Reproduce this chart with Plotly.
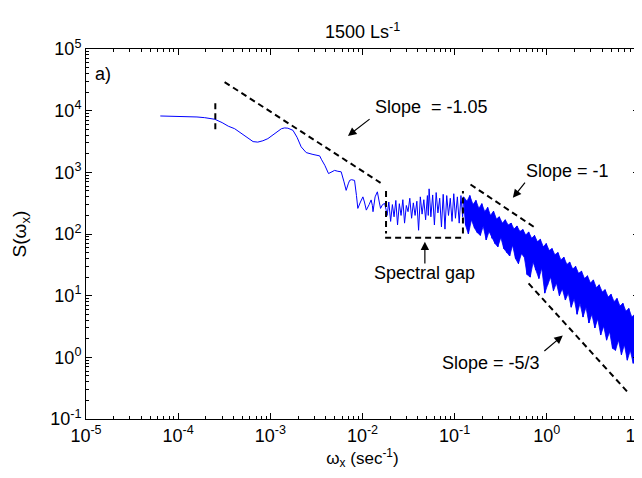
import math
import plotly.graph_objects as go

# ---------------- data ----------------
# smooth / low-frequency part of the spectrum
low_freq = [6.4e-5, 8e-5, 1.0e-4, 1.3e-4, 1.6e-4, 1.94e-4, 2.5e-4, 3.0e-4, 3.5e-4, 4.1e-4,
            4.8e-4, 5.7e-4, 6.5e-4, 7.3e-4, 8.3e-4, 9.4e-4, 1.07e-3, 1.2e-3, 1.32e-3, 1.43e-3,
            1.55e-3, 1.76e-3, 1.95e-3, 2.16e-3, 2.45e-3, 2.9e-3, 3.43e-3, 3.6e-3, 3.9e-3, 4.28e-3,
            4.6e-3, 4.98e-3, 5.4e-3, 5.87e-3, 6.3e-3, 6.65e-3, 7.0e-3, 7.25e-3, 7.6e-3, 8.2e-3,
            8.6e-3, 8.9e-3, 9.5e-3, 1.01e-2, 1.05e-2, 1.1e-2, 1.18e-2, 1.24e-2, 1.28e-2, 1.3e-2,
            1.37e-2, 1.45e-2, 1.52e-2, 1.57e-2, 1.65e-2, 1.74e-2, 1.8e-2]
low_S = [8200, 8150, 8100, 8000, 7900, 7700, 7250, 6400, 5600, 5100,
         4300, 3520, 3150, 3090, 3250, 3520, 4100, 4700, 5100, 5250,
         5200, 4800, 3700, 2590, 2090, 1950, 1850, 1600, 1300, 955,
         1020, 1075, 1040, 1020, 700, 510, 650, 740, 760, 740,
         420, 260, 330, 400, 330, 244, 300, 357, 290, 230,
         400, 483, 330, 260, 300, 313, 250]

# "spectral gap" part
gap_freq = [0.0185, 0.0193, 0.0202, 0.0211, 0.022, 0.023, 0.024, 0.0251, 0.0262, 0.0274,
            0.0286, 0.0299, 0.0312, 0.0326, 0.0341, 0.0356, 0.0372, 0.0389, 0.0406, 0.0424,
            0.0443, 0.0463, 0.0484, 0.0506, 0.0517, 0.0528, 0.0552, 0.0577, 0.0603, 0.063,
            0.0658, 0.0688, 0.0719, 0.0751, 0.0785, 0.082, 0.0857, 0.0896, 0.0936, 0.0978,
            0.102, 0.107, 0.112, 0.117, 0.122]
gap_S = [200, 330, 160, 300, 190, 350, 140, 310, 200, 360,
         150, 290, 230, 380, 180, 320, 200, 340, 115, 400,
         210, 360, 170, 420, 200, 540, 190, 430, 140, 470,
         220, 380, 130, 440, 120, 420, 200, 380, 160, 450,
         180, 400, 150, 420, 190]

# high-frequency (inertial) part: frequencies alternate peak / trough samples
high_freq = [0.125, 0.131, 0.136, 0.141, 0.146, 0.152, 0.158, 0.164, 0.17, 0.176,
             0.183, 0.19, 0.197, 0.204, 0.212, 0.22, 0.228, 0.236, 0.245, 0.254,
             0.264, 0.274, 0.284, 0.294, 0.305, 0.317, 0.329, 0.341, 0.354, 0.367,
             0.38, 0.395, 0.41, 0.425, 0.44, 0.457, 0.474, 0.492, 0.51, 0.53,
             0.55, 0.57, 0.59, 0.61, 0.635, 0.66, 0.685, 0.71, 0.735, 0.76,
             0.79, 0.82, 0.85, 0.88, 0.915, 0.95, 0.985, 1.02, 1.06, 1.1,
             1.14, 1.18, 1.22, 1.27, 1.32, 1.37, 1.42, 1.47, 1.53, 1.59,
             1.65, 1.71, 1.77, 1.84, 1.91, 1.98, 2.05, 2.13, 2.21, 2.29,
             2.38, 2.47, 2.56, 2.66, 2.76, 2.86, 2.97, 3.08, 3.2, 3.32,
             3.44, 3.57, 3.7, 3.84, 3.99, 4.14, 4.29, 4.45, 4.62, 4.8,
             4.98, 5.16, 5.36, 5.56, 5.77, 5.99, 6.21, 6.45, 6.69, 6.94,
             7.2, 7.47, 7.75, 8.04, 8.35, 8.66, 8.99, 9.33, 9.68, 10.0]
high_peaks = [400, 340, 420, 300, 350, 260, 310, 230, 270, 200,
              235, 175, 190, 150, 170, 140, 150, 120, 135, 110,
              118, 96, 108, 85, 95, 75, 82, 62, 70, 54,
              58, 46, 50, 38, 42, 32, 35, 27, 30, 23,
              25, 19, 21, 16, 18, 13.5, 15, 11.5, 12.5, 9.5,
              10.5, 8, 9, 6.8, 7.5, 5.6, 6.2, 4.5, 5, 3.8]
high_troughs = [140, 100, 170, 125, 105, 95, 135, 80, 110, 85,
                70, 62, 88, 58, 50, 44, 66, 40, 33, 48,
                42, 22, 20, 35, 26, 19, 28, 11, 15, 20,
                12, 16, 10, 13, 8.5, 11, 6.5, 9, 5, 7.5,
                4.5, 6.5, 3.6, 5, 3, 4.2, 2.3, 3.2, 1.9, 2.6,
                1.4, 1.3, 1.9, 1.1, 1.6, 0.9, 1.3, 0.8, 1.05, 0.6]
high_S = [v for pair in zip(high_peaks, high_troughs) for v in pair]

# reference (dashed) lines
slope105_x = [3.19e-4, 0.0157]
slope105_y = [29100, 676]
slope1_x = [0.1486, 0.766]
slope1_y = [635, 123]
slope53_x = [0.634, 7.69]
slope53_y = [15.8, 0.264]
marker_x = [2.53e-4, 2.53e-4]
marker_y = [5000, 15000]
gap_box_x = [0.018, 0.018, 0.0176, 0.123, 0.123, 0.123]
gap_box_y = [500, 102, 87, 87, 102, 500]

# axis ticks (decade exponents)
decades = [-5, -4, -3, -2, -1, 0, 1]
ydecades = [-1, 0, 1, 2, 3, 4, 5]

FONT = "Liberation Sans, Arial, sans-serif"
L = math.log10
BLUE = "#0000ff"

fig = go.Figure()
# dense high-frequency band: area between the peak samples and the trough samples
fig.add_trace(go.Scatter(x=high_freq[0::2], y=high_peaks, mode="lines",
                         line=dict(color=BLUE, width=0.8), showlegend=False, hoverinfo="skip"))
fig.add_trace(go.Scatter(x=high_freq[1::2], y=high_troughs, mode="lines", fill="tonexty",
                         fillcolor=BLUE, line=dict(color=BLUE, width=0.8), showlegend=False,
                         hoverinfo="skip"))
fig.add_trace(go.Scatter(x=low_freq + gap_freq + high_freq, y=low_S + gap_S + high_S,
                         mode="lines", line=dict(color=BLUE, width=1), showlegend=False))

dash = dict(color="black", width=2, dash="6px,4px")
for xs, ys in [(slope105_x, slope105_y), (slope1_x, slope1_y), (slope53_x, slope53_y),
               (marker_x, marker_y)]:
    fig.add_trace(go.Scatter(x=xs, y=ys, mode="lines", line=dash, showlegend=False))
for i in (0, 2, 4):
    fig.add_trace(go.Scatter(x=gap_box_x[i:i + 2], y=gap_box_y[i:i + 2], mode="lines",
                             line=dash, showlegend=False))

texts = [
    ("Slope  = -1.05", 0.0566, 11600),
    ("Slope = -1", 1.67, 1040),
    ("Spectral gap", 0.0475, 23),
    ("Slope = -5/3", 0.247, 0.805),
]
for t, x, y in texts:
    fig.add_annotation(x=L(x), y=L(y), xref="x", yref="y", text=t, showarrow=False,
                       font=dict(family=FONT, size=18, color="black"))

arrows = [  # head (x, y), tail (x, y)
    (6.95e-3, 3900, 0.0124, 7620),
    (0.428, 386, 0.597, 718),
    (0.0475, 75, 0.0475, 31.4),
    (1.49, 2.26, 0.906, 1.21),
]
for hx, hy, tx, ty in arrows:
    fig.add_annotation(x=L(hx), y=L(hy), ax=L(tx), ay=L(ty), xref="x", yref="y",
                       axref="x", ayref="y", text="", showarrow=True,
                       arrowhead=2, arrowsize=1.4, arrowwidth=1.2, arrowcolor="black")

fig.add_annotation(x=0.012, y=0.965, xref="paper", yref="paper", text="a)", showarrow=False,
                   xanchor="left", font=dict(family=FONT, size=18, color="black"))


def minor_vals(ds):
    return [m * 10.0 ** d for d in ds[:-1] for m in range(2, 10)]


def axis(ds):
    return dict(type="log", tickmode="array", tickvals=[10.0 ** d for d in ds],
                ticktext=["10<sup>%d</sup>" % d for d in ds], ticklabeloverflow="allow",
                automargin=False,
                ticks="inside", ticklen=6, tickcolor="black", showline=True, linecolor="black",
                linewidth=1, mirror="ticks", showgrid=False, zeroline=False,
                tickfont=dict(family=FONT, size=18, color="black"),
                minor=dict(tickmode="array", tickvals=minor_vals(ds), ticks="inside", ticklen=3,
                           tickcolor="black", showgrid=False))


fig.update_xaxes(**axis(decades), range=[-5, 1],
                 title=dict(text="ω<sub>x</sub> (sec<sup>-1</sup>)", standoff=4,
                            font=dict(family=FONT, size=17, color="black")))
fig.update_yaxes(**axis(ydecades), range=[-1, 5],
                 title=dict(text="S(ω<sub>x</sub>)", standoff=18,
                            font=dict(family=FONT, size=19, color="black")))

fig.update_layout(
    width=642, height=478,
    margin=dict(l=78, r=11, t=41, b=67, autoexpand=False),
    paper_bgcolor="white", plot_bgcolor="white",
    title=dict(text="1500 Ls<sup>-1</sup>", x=0.5522, xanchor="center", y=0.95, yanchor="middle",
               font=dict(family=FONT, size=18, color="black")),
)

fig.write_html("out.html")
